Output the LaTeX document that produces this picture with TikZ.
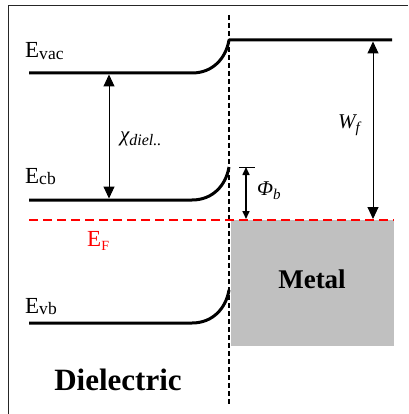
\documentclass[tikz,border=0pt]{standalone}
\usepackage{fontspec}
\setmainfont{Liberation Serif}
\usetikzlibrary{arrows.meta,positioning}
\definecolor{metalgray}{RGB}{192,192,192}
\definecolor{efred}{RGB}{255,0,0}
\newcommand{\lvlname}[1]{E\raisebox{-1.5pt}{\fontsize{17.5}{17.5}\selectfont #1}}

\begin{document}
\begin{tikzpicture}[x=1pt,y=-1pt,
        lvl/.style={line width=3pt,line join=round},
        meas/.style={{Triangle[length=12pt,width=11pt]}-{Triangle[length=12pt,width=11pt]},line width=1pt},
        smallmeas/.style={{Triangle[length=8pt,width=7pt]}-{Triangle[length=8pt,width=7pt]},line width=1.6pt},
        lbl/.style={font=\fontsize{23}{27}\selectfont,inner sep=0pt,anchor=base west},
        sym/.style={font=\fontsize{21}{25}\selectfont\itshape,inner sep=0pt,anchor=base west},
        big/.style={font=\fontsize{27}{32}\selectfont\bfseries,inner sep=0pt,anchor=base}]
    \useasboundingbox (0,0) rectangle (408,414);
    % frame
    \draw[line width=1pt,black!85] (8,414) -- (8,6) -- (408,6);
    % metal block
    \node[fill=metalgray,inner sep=0pt,minimum width=163pt,minimum height=126pt,anchor=north west] (metal) at (231,220) {};
    % interface
    \coordinate (ifT) at (229,15);
    \coordinate (ifB) at (229,406);
    \draw[line width=1.2pt,dash pattern=on 5pt off 3pt] (ifT) -- (ifB);
    % levels
    \coordinate (vacL) at (29,73);  \coordinate (vacB) at (192,73);
    \coordinate (vacM) at (229,40); \coordinate (vacR) at (392,40);
    \coordinate (cbL) at (29,200);  \coordinate (cbB) at (192,200);
    \coordinate (cbM) at (229,167);
    \coordinate (vbL) at (29,323);  \coordinate (vbB) at (192,323);
    \coordinate (vbM) at (229,290);
    \coordinate (efL) at (29,220);  \coordinate (efR) at (394,220);
    \draw[lvl] (vacL) -- (vacB) .. controls (213,73) and (226,58) .. (vacM) -- (vacR);
    \draw[lvl] (cbL) -- (cbB) .. controls (213,200) and (226,185) .. (cbM);
    \draw[lvl] (vbL) -- (vbB) .. controls (213,323) and (226,308) .. (vbM);
    \draw[efred,line width=2pt,dash pattern=on 9pt off 5pt] (efL) -- (efR);
    % arrows
    \coordinate (chiT) at (109,74.5); \coordinate (chiB) at (109,198.5);
    \coordinate (wfT) at (373,41.5);  \coordinate (wfB) at (373,219);
    \coordinate (phiT) at (246,167);  \coordinate (phiB) at (246,219);
    \draw[meas] (chiT) -- (chiB);
    \draw[meas] (wfT) -- (wfB);
    \draw[smallmeas] (phiT) -- (phiB);
    \draw[line width=1pt] ([xshift=-7pt]phiT) -- ([xshift=9pt]phiT);
    % labels
    \node[lbl] (evac) at (25,58) {\lvlname{vac}};
    \node[lbl] (ecb) at (25,183) {\lvlname{cb}};
    \node[lbl] (evb) at (25,313) {\lvlname{vb}};
    \node[lbl,text=efred] (ef) at (87,246) {E\raisebox{-4pt}{\fontsize{14}{14}\selectfont F}};
    \node[sym] (chi) at (120,142) {χ\raisebox{-4pt}{\fontsize{16}{16}\selectfont diel..}};
    \node[sym] (wf) at (338,129) {W\raisebox{-4pt}{\fontsize{15}{15}\selectfont f}};
    \node[sym] (phi) at (257,195) {Φ\raisebox{-4pt}{\fontsize{15}{15}\selectfont b}};
    \node[big] (metallbl) at (312,288) {Metal};
    \node[big,font=\fontsize{31}{37}\selectfont\bfseries] (diel) at (118,390) {Dielectric};
\end{tikzpicture}
\end{document}
